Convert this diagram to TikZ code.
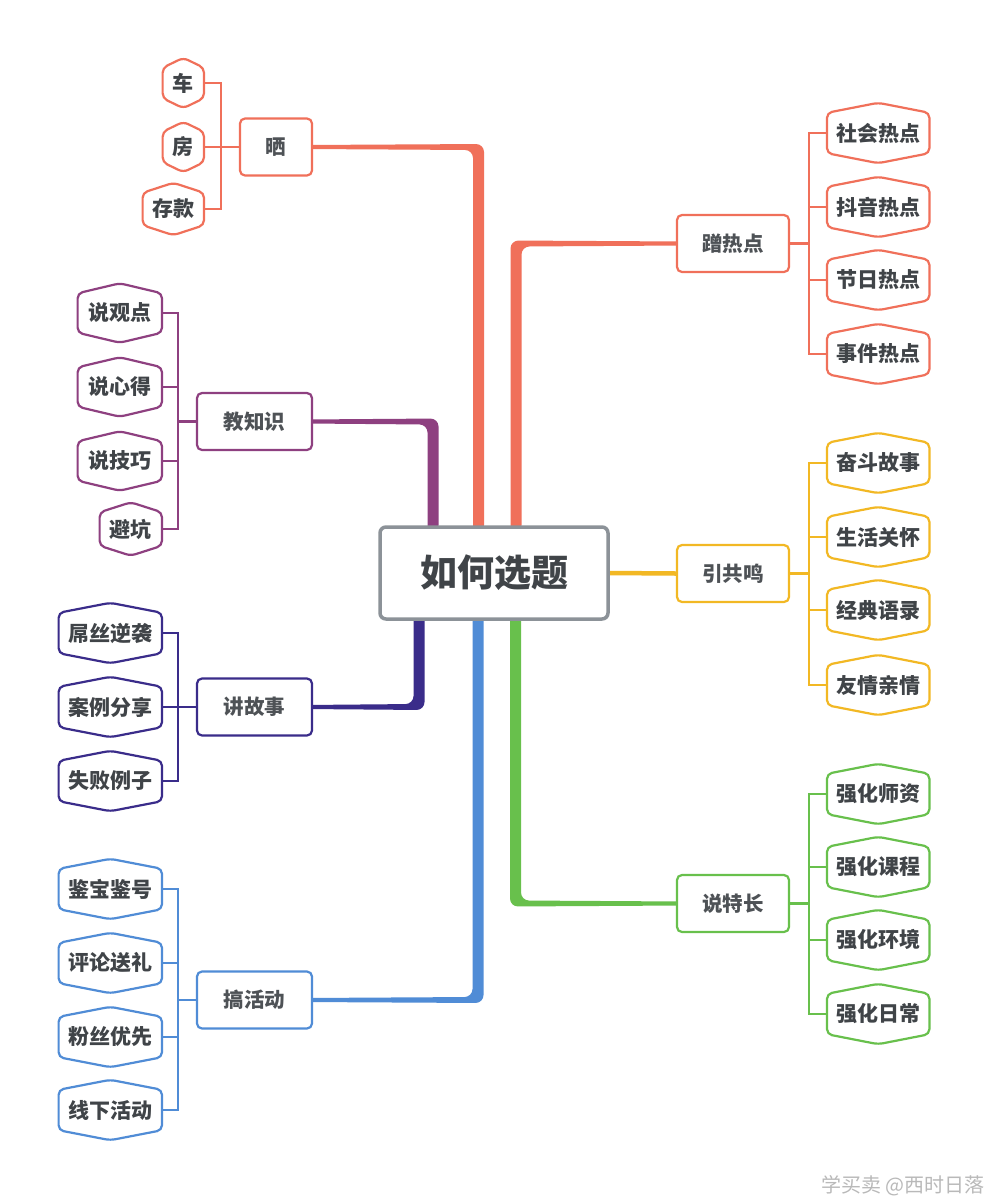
\documentclass[tikz,border=0pt]{standalone}
\usepackage{fontspec}
\setmainfont{Noto Sans CJK SC}
\usetikzlibrary{calc}
\pgfdeclarelayer{bg}
\pgfdeclarelayer{background}
\pgfsetlayers{bg,background,main}
\definecolor{cRed}{RGB}{240,112,90}
\definecolor{cPurple}{RGB}{142,64,128}
\definecolor{cIndigo}{RGB}{58,44,138}
\definecolor{cBlue}{RGB}{80,140,214}
\definecolor{cYellow}{RGB}{242,184,36}
\definecolor{cGreen}{RGB}{104,192,76}
\definecolor{cGray}{RGB}{140,146,152}
\definecolor{cText}{RGB}{64,68,72}
\definecolor{cBText}{RGB}{78,82,86}
\definecolor{cMark}{RGB}{185,185,185}
\tikzset{
  leaftext/.style={inner sep=0pt, font=\fontsize{21}{21}\selectfont\bfseries, text=cText},
  leafline/.style={line width=2.2pt, rounded corners=5pt, fill=white},
  branchbox/.style={draw, line width=2.2pt, rounded corners=5pt, fill=white,
    minimum height=57pt, inner sep=0pt, font=\fontsize{20.5}{21}\selectfont\bfseries, text=cBText},
  centerbox/.style={draw=cGray, line width=3.5pt, rounded corners=6pt, fill=white,
    minimum width=228pt, minimum height=92pt, inner sep=0pt,
    font=\fontsize{37}{37}\selectfont\bfseries, text=cText},
  bus/.style={line width=2.2pt, line join=miter},
}
% #1 name, #2 anchor, #3 position, #4 width, #5 height, #6 colour, #7 text
\newcommand\leaf[7]{%
  \path node[minimum width=#4pt, minimum height=#5pt, inner sep=0pt, anchor=#2] (#1) at (#3) {};
  \draw[leafline, draw=#6] ([yshift=-10pt]#1.north west) -- (#1.north) -- ([yshift=-10pt]#1.north east)
    -- ([yshift=10pt]#1.south east) -- (#1.south) -- ([yshift=10pt]#1.south west) -- cycle;
  \node[leaftext, anchor=center] (#1t) at (#1.center) {#7};
}
% #1 junction, #2 node anchor, #3 colour, #4 sx, #5 sy
\newcommand\trunk[5]{%
  \coordinate (tk) at (#1 |- #2);
  \fill[#3, rounded corners=8pt]
    ($(#1)+({-1*(#4)*5.5},0)$) --
    ($(tk)+({-1*(#4)*5.5},{(#5)*3})$) --
    ($(#2)+({(#4)*8},{(#5)*2})$) --
    ($(#2)+({(#4)*8},{-1*(#5)*2})$) --
    ($(tk)+({(#4)*5.5},{-1*(#5)*3})$) --
    ($(#1)+({(#4)*5.5},0)$) -- cycle;
}
\begin{document}
\begin{tikzpicture}[x=1pt, y=-1pt]
\begin{pgfonlayer}{bg}
\fill[white] (0,0) rectangle (988,1200);
\end{pgfonlayer}
\useasboundingbox (0,0) rectangle (988,1200);

% main nodes
\node[centerbox] (c) at (494,573) {如何选题};
\node[branchbox, draw=cRed, minimum width=72pt] (sai) at (276,147) {晒};
\node[branchbox, draw=cRed, minimum width=112pt] (ceng) at (733,243.5) {蹭热点};
\node[branchbox, draw=cPurple, minimum width=115pt] (jiao) at (254.5,421.5) {教知识};
\node[branchbox, draw=cYellow, minimum width=112pt] (yin) at (733,573.5) {引共鸣};
\node[branchbox, draw=cIndigo, minimum width=115pt] (jiang) at (254.5,707) {讲故事};
\node[branchbox, draw=cGreen, minimum width=112pt] (shuo) at (733,903.5) {说特长};
\node[branchbox, draw=cBlue, minimum width=115pt] (gao) at (254.5,1000) {搞活动};

% trunk junctions
\coordinate (jS) at ($(c.north)+(-15.5,8)$);
\coordinate (jC) at ($(c.north)+(22,8)$);
\coordinate (jJ) at ($(c.north)+(-61,8)$);
\coordinate (jK) at ($(c.south)+(-75,-8)$);
\coordinate (jG) at ($(c.south)+(-16,-8)$);
\coordinate (jT) at ($(c.south)+(21.5,-8)$);

\begin{pgfonlayer}{background}
\trunk{jS}{sai.east}{cRed}{-1}{-1}
\trunk{jC}{ceng.west}{cRed}{1}{-1}
\trunk{jJ}{jiao.east}{cPurple}{-1}{-1}
\trunk{jK}{jiang.east}{cIndigo}{-1}{1}
\trunk{jG}{gao.east}{cBlue}{-1}{1}
\trunk{jT}{shuo.west}{cGreen}{1}{1}
\draw[cYellow, line width=4.5pt] (c.east) -- (yin.west);
\end{pgfonlayer}

% bus coordinates
\coordinate (bS) at ($(sai.west)+(-18,0)$);
\coordinate (bC) at ($(ceng.east)+(19,0)$);
\coordinate (bJ) at ($(jiao.west)+(-18,0)$);
\coordinate (bY) at ($(yin.east)+(19,0)$);
\coordinate (bK) at ($(jiang.west)+(-18,0)$);
\coordinate (bT) at ($(shuo.east)+(19,0)$);
\coordinate (bG) at ($(gao.west)+(-18,0)$);

% leaves: 晒
\leaf{s1}{east}{204,83}{41}{50}{cRed}{车}
\leaf{s2}{east}{204,147}{41}{50}{cRed}{房}
\leaf{s3}{east}{204,209}{61}{52}{cRed}{存款}
% 蹭热点
\leaf{c1}{west}{827,133}{102}{60}{cRed}{社会热点}
\leaf{c2}{west}{827,207}{102}{60}{cRed}{抖音热点}
\leaf{c3}{west}{827,280}{102}{60}{cRed}{节日热点}
\leaf{c4}{west}{827,354}{102}{60}{cRed}{事件热点}
% 教知识
\leaf{j1}{east}{162,313}{84}{59}{cPurple}{说观点}
\leaf{j2}{east}{162,387}{84}{59}{cPurple}{说心得}
\leaf{j3}{east}{162,461}{84}{59}{cPurple}{说技巧}
\leaf{j4}{east}{162,529}{62}{53}{cPurple}{避坑}
% 引共鸣
\leaf{y1}{west}{827,463}{102}{60}{cYellow}{奋斗故事}
\leaf{y2}{west}{827,537}{102}{60}{cYellow}{生活关怀}
\leaf{y3}{west}{827,610}{102}{60}{cYellow}{经典语录}
\leaf{y4}{west}{827,685}{102}{60}{cYellow}{友情亲情}
% 讲故事
\leaf{k1}{east}{162,633}{103}{60}{cIndigo}{屌丝逆袭}
\leaf{k2}{east}{162,707}{103}{60}{cIndigo}{案例分享}
\leaf{k3}{east}{162,781}{103}{60}{cIndigo}{失败例子}
% 说特长
\leaf{t1}{west}{827,794}{102}{60}{cGreen}{强化师资}
\leaf{t2}{west}{827,867}{102}{60}{cGreen}{强化课程}
\leaf{t3}{west}{827,940}{102}{60}{cGreen}{强化环境}
\leaf{t4}{west}{827,1014}{102}{60}{cGreen}{强化日常}
% 搞活动
\leaf{g1}{east}{162,889}{103}{60}{cBlue}{鉴宝鉴号}
\leaf{g2}{east}{162,963}{103}{60}{cBlue}{评论送礼}
\leaf{g3}{east}{162,1037}{103}{60}{cBlue}{粉丝优先}
\leaf{g4}{east}{162,1110}{103}{60}{cBlue}{线下活动}

% buses
\begin{pgfonlayer}{background}
\draw[bus, cRed] (s1.east) -- (s1.east -| bS) -- (s3.east -| bS) -- (s3.east);
\draw[bus, cRed] (s2.east) -- (sai.west);

\draw[bus, cRed] (c1.west) -- (c1.west -| bC) -- (c4.west -| bC) -- (c4.west);
\foreach \n in {c2,c3} \draw[bus, cRed] (\n.west) -- (\n.west -| bC);
\draw[bus, cRed] (bC) -- (ceng.east);

\draw[bus, cPurple] (j1.east) -- (j1.east -| bJ) -- (j4.east -| bJ) -- (j4.east);
\foreach \n in {j2,j3} \draw[bus, cPurple] (\n.east) -- (\n.east -| bJ);
\draw[bus, cPurple] (bJ) -- (jiao.west);

\draw[bus, cYellow] (y1.west) -- (y1.west -| bY) -- (y4.west -| bY) -- (y4.west);
\foreach \n in {y2,y3} \draw[bus, cYellow] (\n.west) -- (\n.west -| bY);
\draw[bus, cYellow] (bY) -- (yin.east);

\draw[bus, cIndigo] (k1.east) -- (k1.east -| bK) -- (k3.east -| bK) -- (k3.east);
\draw[bus, cIndigo] (k2.east) -- (jiang.west);

\draw[bus, cGreen] (t1.west) -- (t1.west -| bT) -- (t4.west -| bT) -- (t4.west);
\foreach \n in {t2,t3} \draw[bus, cGreen] (\n.west) -- (\n.west -| bT);
\draw[bus, cGreen] (bT) -- (shuo.east);

\draw[bus, cBlue] (g1.east) -- (g1.east -| bG) -- (g4.east -| bG) -- (g4.east);
\foreach \n in {g2,g3} \draw[bus, cBlue] (\n.east) -- (\n.east -| bG);
\draw[bus, cBlue] (bG) -- (gao.west);
\end{pgfonlayer}

% watermark
\node[anchor=east, inner sep=0pt, text=cMark, font=\fontsize{20}{20}\selectfont] (wm) at (985,1186) {学买卖 @西时日落};
\end{tikzpicture}
\end{document}
